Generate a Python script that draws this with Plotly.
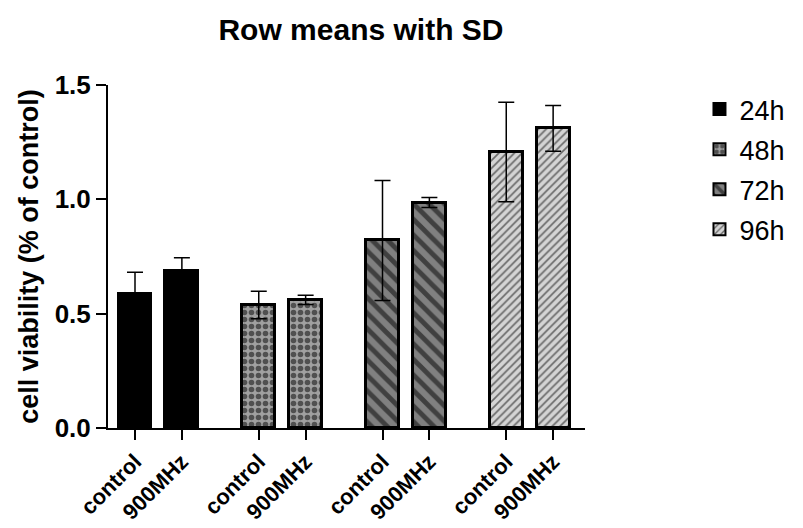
import plotly.graph_objects as go

groups = ["24h", "48h", "72h", "96h"]
conditions = ["control", "900MHz"]
means = {
    "24h": [0.588, 0.686],
    "48h": [0.538, 0.560],
    "72h": [0.820, 0.986],
    "96h": [1.207, 1.310],
}
sds = {
    "24h": [0.093, 0.058],
    "48h": [0.060, 0.020],
    "72h": [0.262, 0.022],
    "96h": [0.218, 0.100],
}
y_ticks = [0.0, 0.5, 1.0, 1.5]

group_step = 2.64
styles = {
    "24h": dict(shape="", bg="black", fg="black", size=8, sol=0.3),
    "48h": dict(shape=".", bg="#a0a0a0", fg="black", size=7, sol=0.5),
    "72h": dict(shape="\\", bg="#808080", fg="black", size=11, sol=0.45),
    "96h": dict(shape="/", bg="#d4d4d4", fg="black", size=5.5, sol=0.3),
}

font = "Liberation Sans, Arial, sans-serif"
fig = go.Figure()
tickvals, ticktext = [], []
for gi, g in enumerate(groups):
    xs = [gi * group_step + ci for ci in range(len(conditions))]
    tickvals += xs
    ticktext += conditions
    st = styles[g]
    pattern = dict(shape=st["shape"], bgcolor=st["bg"], fgcolor=st["fg"],
                   size=st["size"], solidity=st["sol"], fillmode="overlay")
    fig.add_trace(go.Bar(
        x=xs, y=means[g], name=g, width=0.70, legendgroup=g,
        marker=dict(color=st["bg"], pattern=pattern,
                    line=dict(color="black", width=3)),
        error_y=dict(type="data", array=sds[g], symmetric=True,
                     color="black", thickness=1.5, width=8),
    ))

fig.update_layout(
    width=795, height=520,
    margin=dict(l=100, r=218, t=77, b=100),
    paper_bgcolor="white", plot_bgcolor="white",
    font=dict(family=font, color="black"),
    title=dict(text="<b>Row means with SD</b>", x=0.444, xanchor="center",
               y=0.958, yanchor="middle", font=dict(size=30, family=font)),
    showlegend=True,
    legend=dict(x=1.24, xanchor="left", y=1.0, yanchor="top",
                font=dict(size=27, family=font), tracegroupgap=2,
                itemsizing="constant"),
    bargap=0,
)
fig.update_yaxes(range=[0, 1.5], tickvals=y_ticks,
                 ticktext=["<b>%.1f</b>" % v for v in y_ticks],
                 showline=True, linecolor="black", linewidth=2,
                 ticks="outside", ticklen=10, tickwidth=2, tickcolor="black",
                 showgrid=False, zeroline=False, automargin=False,
                 tickfont=dict(size=26, family=font),
                 title=dict(text="<b>cell viability (% of control)</b>",
                            font=dict(size=27, family=font), standoff=8))
fig.update_xaxes(range=[-0.576, 3 * group_step + 1 + 0.68],
                 tickvals=tickvals,
                 ticktext=["<b>%s</b>" % t for t in ticktext],
                 tickangle=-45, automargin=False,
                 showline=True, linecolor="black", linewidth=2,
                 ticks="outside", ticklen=10, tickwidth=2, tickcolor="black",
                 showgrid=False, zeroline=False,
                 tickfont=dict(size=22, family=font))

fig.write_html("out.html")
